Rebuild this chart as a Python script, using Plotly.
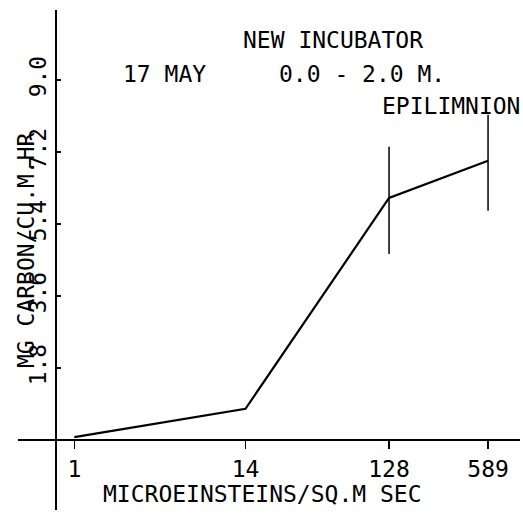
import plotly.graph_objects as go

# Data
light = [1, 14, 128, 589]                 # microeinsteins / sq.m sec
carbon = [0.07, 0.78, 6.05, 6.98]         # mg carbon / cu.m hr
err_plus = [0.0, 0.0, 1.28, 1.15]
err_minus = [0.0, 0.0, 1.40, 1.25]
x_tick_vals = [1, 14, 128, 589]
x_tick_text = ["1", "14", "128", "589"]
y_tick_vals = [1.8, 3.6, 5.4, 7.2, 9.0]
y_tick_text = ["1.8", "3.6", "5.4", "7.2", "9.0"]

FONT = "DejaVu Sans Mono"
FS = 23
W, H = 523, 519
L, R, T, B = 18, 3, 10, 9
PW, PH = W - L - R, H - T - B


def px(xp):
    return (xp - L) / PW


def py(yp):
    return (H - B - yp) / PH


fig = go.Figure()
fig.add_trace(go.Scatter(
    x=light, y=carbon, mode="lines",
    line=dict(color="black", width=2.2),
    error_y=dict(type="data", symmetric=False, array=err_plus,
                 arrayminus=err_minus, color="black", thickness=1.5, width=0),
    showlegend=False, hoverinfo="skip",
))

fig.update_layout(
    width=W, height=H,
    margin=dict(l=L, r=R, t=T, b=B, pad=0, autoexpand=False),
    paper_bgcolor="white", plot_bgcolor="white",
    font=dict(family=FONT, size=FS, color="black"),
    xaxis=dict(
        type="log", range=[-0.377, 2.984],
        tickvals=x_tick_vals, ticktext=x_tick_text,
        showgrid=False, zeroline=False, automargin=False,
        showline=True, linecolor="black", linewidth=2,
        ticks="outside", ticklen=8, tickwidth=1.5, tickcolor="black",
        anchor="free", position=py(440),
        tickfont=dict(family=FONT, size=FS),
    ),
    yaxis=dict(
        range=[-1.75, 10.75],
        tickvals=y_tick_vals, ticktext=y_tick_text,
        tickangle=-90,
        showgrid=False, zeroline=False, automargin=False,
        showline=True, linecolor="black", linewidth=2,
        ticks="inside", ticklen=4, tickwidth=1.5, tickcolor="black",
        anchor="free", position=px(56),
        tickfont=dict(family=FONT, size=FS),
    ),
)

ann = [
    ("NEW INCUBATOR", 333, 40, 0),
    ("17 MAY", 164, 74, 0),
    ("0.0 - 2.0 M.", 362, 74, 0),
    ("EPILIMNION", 451, 106, 0),
    ("MICROEINSTEINS/SQ.M SEC", 262, 494, 0),
    ("MG CARBON/CU.M.HR", 26, 250, -90),
]
for text, x, y, ang in ann:
    fig.add_annotation(text=text, xref="paper", yref="paper",
                       x=px(x), y=py(y), showarrow=False, textangle=ang,
                       xanchor="center", yanchor="middle",
                       font=dict(family=FONT, size=FS, color="black"))

fig.write_html(
    "out.html",
    config={"displayModeBar": False, "staticPlot": True},
    post_script="document.body.style.margin='0';"
                "document.body.style.overflow='hidden';",
)
